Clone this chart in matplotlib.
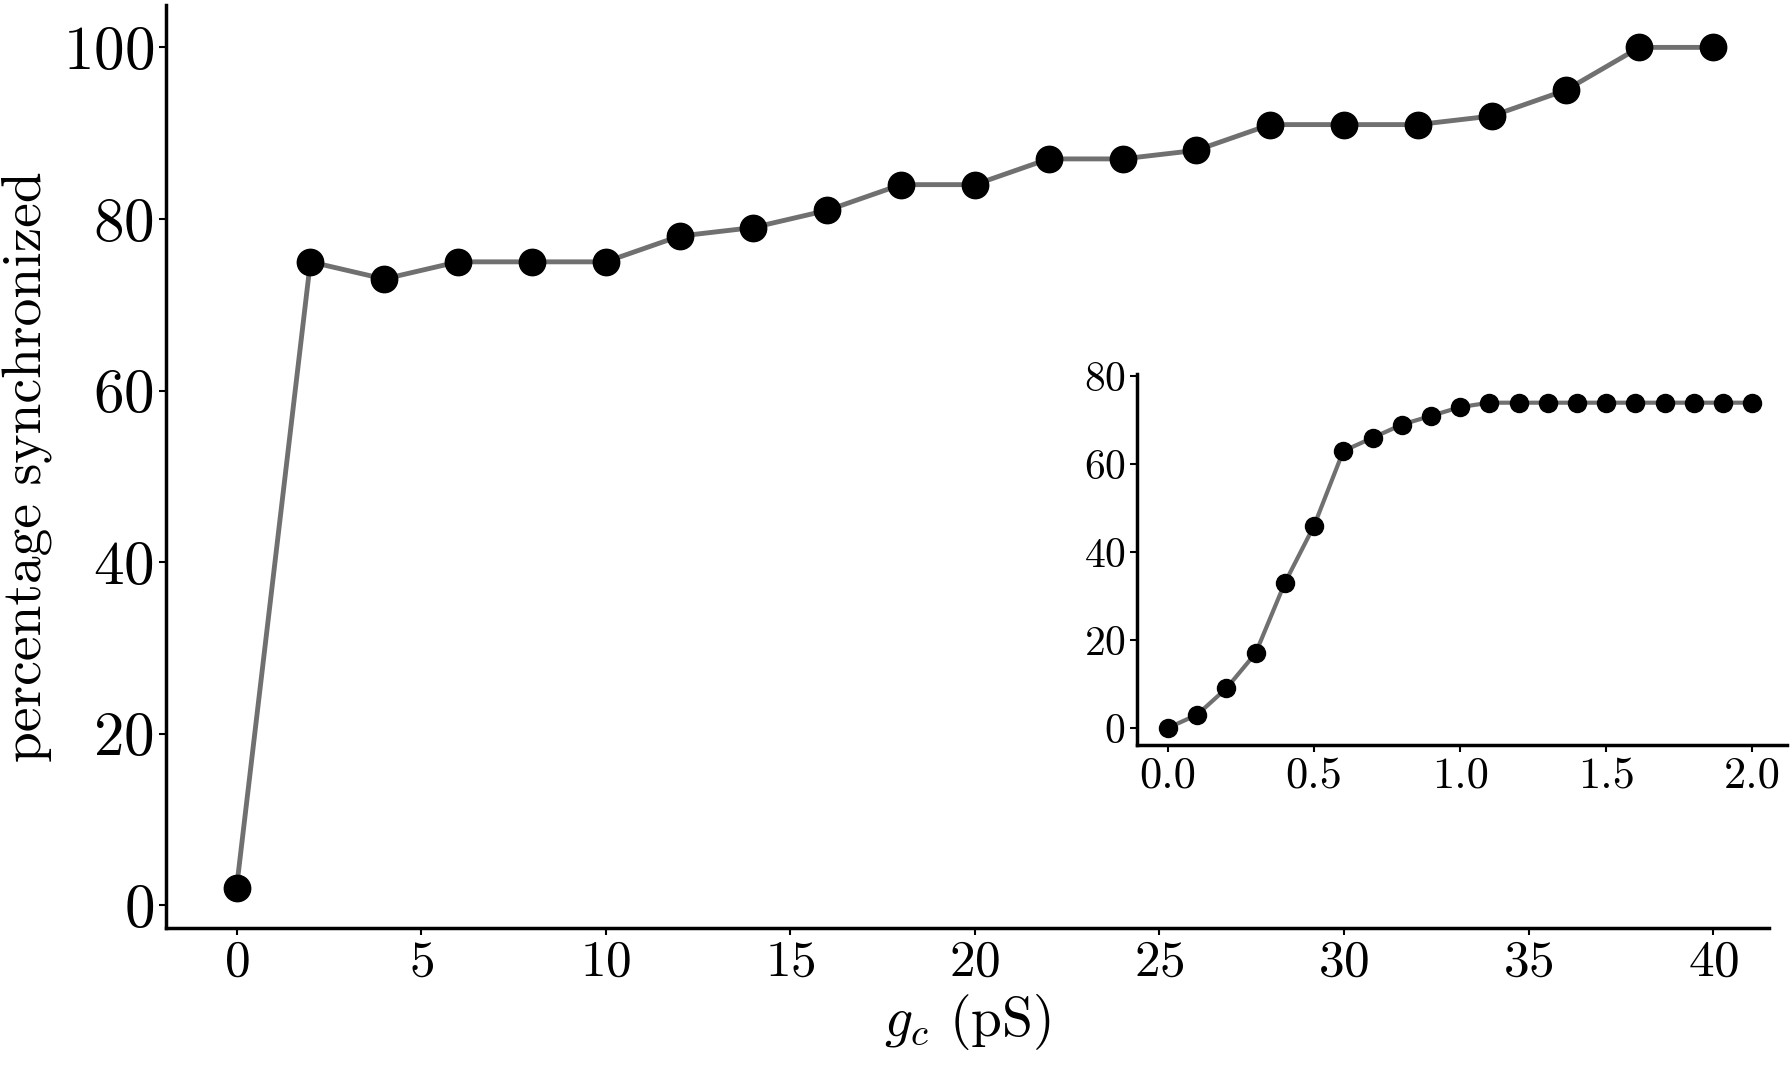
import numpy as np
from matplotlib import pyplot as plt

plt.rcParams['font.family'] = 'serif'
plt.rcParams['font.serif'] = ['cmr10']
plt.rcParams['mathtext.fontset'] = 'cm'
plt.rcParams['axes.formatter.use_mathtext'] = True

# main panel
gc = [0, 2, 4, 6, 8, 10, 12, 14, 16, 18, 20, 22, 24, 26, 28, 30, 32, 34, 36, 38, 40]
sync = [2, 75, 73, 75, 75, 75, 78, 79, 81, 84, 84, 87, 87, 88, 91, 91, 91, 92, 95, 100, 100]

# inset
gc_small = [0.0, 0.1, 0.2, 0.3, 0.4, 0.5, 0.6, 0.7, 0.8, 0.9, 1.0,
            1.1, 1.2, 1.3, 1.4, 1.5, 1.6, 1.7, 1.8, 1.9, 2.0]
sync_small = [0, 3, 9, 17, 33, 46, 63, 66, 69, 71, 73,
              74, 74, 74, 74, 74, 74, 74, 74, 74, 74]

fig = plt.figure(figsize=(17.91, 10.72), dpi=100)
ax = fig.add_axes([0.0925, 0.134, 0.895, 0.861])
ax.plot(gc, sync, '-', color='#707070', lw=3.5, marker='o', ms=19,
        mfc='black', mec='black')
ax.set_xlim(-1.92, 41.5)
ax.set_ylim(-2.7, 104.9)
ax.set_xticks([0, 5, 10, 15, 20, 25, 30, 35, 40])
ax.set_yticks([0, 20, 40, 60, 80, 100])
for s in ['top', 'right']:
    ax.spines[s].set_visible(False)
for s in ['left', 'bottom']:
    ax.spines[s].set_linewidth(2.5)
ax.tick_params(width=1.5, length=5)
ax.tick_params(axis='x', labelsize=37)
ax.tick_params(axis='y', labelsize=44)
ax.set_xlabel('$g_c$ (pS)', fontsize=40)
ax.set_ylabel('percentage synchronized', fontsize=40, labelpad=8)

ins = fig.add_axes([0.635, 0.305, 0.363, 0.346])
ins.plot(gc_small, sync_small, '-', color='#707070', lw=3, marker='o', ms=13,
         mfc='black', mec='black')
ins.set_xlim(-0.105, 2.12)
ins.set_ylim(-3.9, 80.5)
ins.set_xticks([0.0, 0.5, 1.0, 1.5, 2.0])
ins.set_xticklabels(['0.0', '0.5', '1.0', '1.5', '2.0'])
ins.set_yticks([0, 20, 40, 60, 80])
for s in ['top', 'right']:
    ins.spines[s].set_visible(False)
for s in ['left', 'bottom']:
    ins.spines[s].set_linewidth(2.5)
ins.tick_params(width=1.5, length=5)
ins.tick_params(axis='x', labelsize=32)
ins.tick_params(axis='y', labelsize=30)

plt.savefig('out.png', dpi=100)
